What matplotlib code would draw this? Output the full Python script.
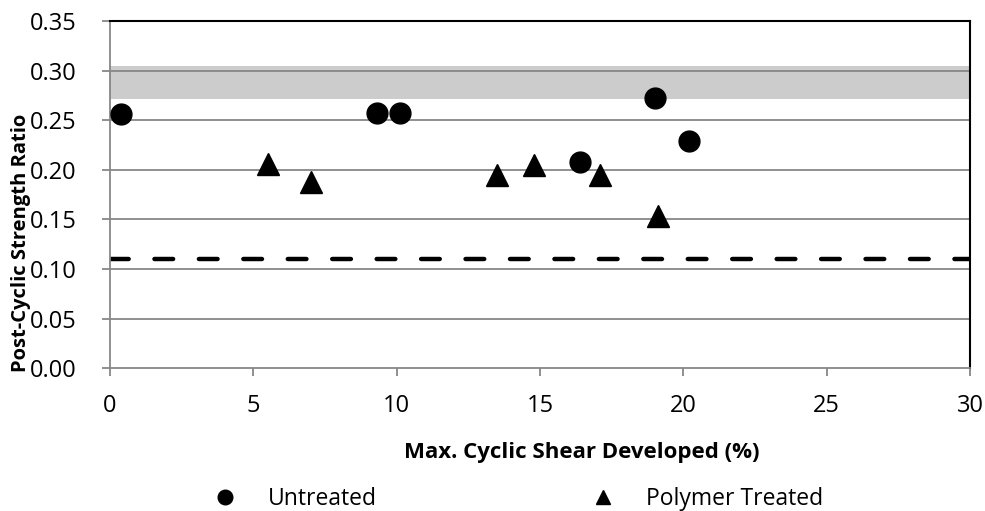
import matplotlib
matplotlib.use("Agg")
import matplotlib.pyplot as plt
from matplotlib.lines import Line2D

plt.rcParams['font.family'] = ['Open Sans', 'DejaVu Sans']

untreated_x = [0.4, 9.3, 10.1, 16.4, 19.0, 20.2]
untreated_y = [0.257, 0.258, 0.258, 0.208, 0.273, 0.229]
polymer_x = [5.5, 7.0, 13.5, 14.8, 17.1, 19.1]
polymer_y = [0.206, 0.188, 0.195, 0.205, 0.195, 0.154]
band_low, band_high = 0.272, 0.305
threshold = 0.11
x_ticks = [0, 5, 10, 15, 20, 25, 30]
y_ticks = [0.00, 0.05, 0.10, 0.15, 0.20, 0.25, 0.30, 0.35]
series_names = ["Untreated", "Polymer Treated"]

W, H = 985, 511
fig = plt.figure(figsize=(W / 100, H / 100), dpi=100)
ax = fig.add_axes([110 / W, 1 - 368 / H, (970 - 110) / W, (368 - 21.5) / H])

ax.axhspan(band_low, band_high, color='#cccccc', zorder=0, lw=0)
for yv in y_ticks[1:]:
    ax.axhline(yv, color='#878787', lw=1.3, zorder=1)
ax.plot([0, 30], [threshold, threshold], color='black', lw=3.2,
        dashes=(4.2, 5.8), dash_capstyle='round', zorder=2)

ax.plot(untreated_x, untreated_y, 'o', color='black', markersize=15, zorder=3)
ax.plot(polymer_x, polymer_y, '^', color='black', markersize=16.5, zorder=3)

ax.set_xlim(0, 30)
ax.set_ylim(0, 0.35)
ax.set_xticks(x_ticks)
ax.set_yticks(y_ticks)
ax.set_xticklabels([str(v) for v in x_ticks])
ax.set_yticklabels([f"{v:.2f}" for v in y_ticks])
ax.tick_params(axis='both', direction='out', length=6, width=1.3, color='#878787',
               labelsize=17)
ax.tick_params(axis='x', pad=13)
ax.tick_params(axis='y', pad=18)
for s in ['left', 'bottom']:
    ax.spines[s].set_color('#878787')
    ax.spines[s].set_linewidth(1.3)
for s in ['top', 'right']:
    ax.spines[s].set_color('black')
    ax.spines[s].set_linewidth(1.5)

fig.text(582 / W, 1 - 458 / H, "Max. Cyclic Shear Developed (%)", ha='center', va='baseline',
         fontsize=16, fontweight='bold')
fig.text(21 / W, 1 - 243 / H, "Post-Cyclic Strength Ratio", ha='center', va='center',
         rotation=90, fontsize=14.5, fontweight='bold')

handles = [Line2D([], [], marker='o', color='black', ls='none', markersize=10.5),
           Line2D([], [], marker='^', color='black', ls='none', markersize=10.5)]
fig.legend(handles, series_names, loc='center left', bbox_to_anchor=(213.5 / W, 1 - 499 / H),
           ncol=2, frameon=False, fontsize=16.5, handlelength=1.0, handletextpad=1.38,
           columnspacing=9.37, borderpad=0, borderaxespad=0)

fig.savefig("out.png", dpi=100)
